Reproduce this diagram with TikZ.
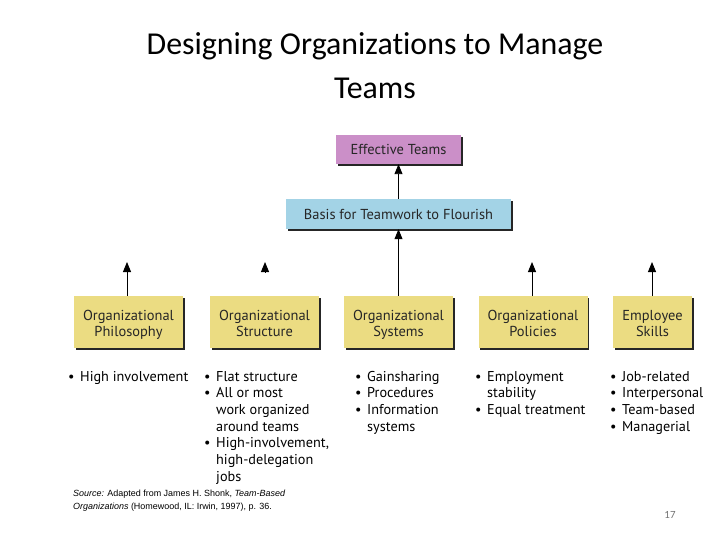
\documentclass[tikz,border=0pt]{standalone}
\usepackage{fontspec}
\setmainfont{PT Sans}
\newfontfamily\titlefont[Ligatures=NoCommon]{Carlito}
\newfontfamily\srcfont{Liberation Sans}
\usetikzlibrary{arrows.meta,shadows}

\definecolor{teampink}{RGB}{203,143,200}
\definecolor{basisblue}{RGB}{163,211,230}
\definecolor{factoryellow}{RGB}{235,220,130}

\newcommand{\bl}{\makebox[12bp][l]{\textbullet}}
\newcommand{\cl}{\hspace*{12bp}}
\newcommand{\fl}[1]{\rule[-1bp]{0pt}{15bp}\smash{#1}}% one line in a factor box
\newcommand{\sstr}{\rule[-1bp]{0pt}{13bp}}% strut of the one-line boxes

\begin{document}
\begin{tikzpicture}[x=1bp,y=-1bp,
    box/.style={inner sep=0pt, align=center, text=black!85,
      font=\fontsize{14.5}{17}\selectfont,
      drop shadow={shadow xshift=1.6bp, shadow yshift=-1.6bp, fill=black, opacity=.85}},
    factor/.style={box, fill=factoryellow, minimum height=52bp},
    list/.style={anchor=north west, inner sep=0pt, align=left,
      font=\fontsize{14.3}{16.7}\selectfont},
    up/.style={-{Triangle[width=8bp,length=10bp]}, line width=.9pt}]
  \useasboundingbox (0,0) rectangle (720,540);

  % title
  \node (title) at (375,66) [align=center, font=\titlefont\fontsize{32}{44}\selectfont]
    {Designing Organizations to Manage\\Teams};

  % top of the chart
  \node (E) at (398.5,149.5) [box, fill=teampink, minimum width=125bp, minimum height=29bp] {\sstr Effective Teams};
  \node (B) at (398.5,214) [box, fill=basisblue, minimum width=225bp, minimum height=30bp] {\sstr Basis for Teamwork to Flourish};

  % the five factors
  \node (phil) at (128.5,322) [factor, minimum width=109bp] {\fl{Organizational}\\\fl{Philosophy}};
  \node (struc) at (264.5,322) [factor, minimum width=109bp] {\fl{Organizational}\\\fl{Structure}};
  \node (sys) at (398.5,322) [factor, minimum width=109bp] {\fl{Organizational}\\\fl{Systems}};
  \node (pol) at (533,322) [factor, minimum width=109bp] {\fl{Organizational}\\\fl{Policies}};
  \node (skill) at (652.5,322) [factor, minimum width=79bp] {\fl{Employee}\\\fl{Skills}};

  \coordinate (tphil) at (127,262);
  \coordinate (tstruc) at (265,262);
  \coordinate (sstruc) at (265,272);
  \coordinate (tpol) at (532,262);
  \coordinate (tskill) at (652,262);

  \draw[up] (B.north) -- (E.south);
  \draw[up] (sys.north) -- (B.south);
  \draw[up] (phil.north -| tphil) -- (tphil);
  \draw[up] (sstruc) -- (tstruc);
  \draw[up] (pol.north -| tpol) -- (tpol);
  \draw[up] (skill.north -| tskill) -- (tskill);

  % bullet lists
  \node (lphil) at (68,371) [list] {\bl High involvement};
  \node (lstruc) at (204,371) [list] {\bl Flat structure\\ \bl All or most\\ \cl work organized\\ \cl around teams\\ \bl High-involvement,\\ \cl high-delegation\\ \cl jobs};
  \node (lsys) at (355,371) [list] {\bl Gainsharing\\ \bl Procedures\\ \bl Information\\ \cl systems};
  \node (lpol) at (475,371) [list] {\bl Employment\\ \cl stability\\ \bl Equal treatment};
  \node (lskill) at (610,371) [list] {\bl Job-related\\ \bl Interpersonal\\ \bl Team-based\\ \bl Managerial};

  % source and page number
  \node (src) at (73,490) [anchor=north west, inner sep=0pt, align=left,
    font=\srcfont\fontsize{9}{13}\selectfont]
    {\textit{Source:} Adapted from James H. Shonk, \textit{Team-Based}\\
     \textit{Organizations} (Homewood, IL: Irwin, 1997), p. 36.};
  \node (page) at (670,515) [text=black!55, font=\titlefont\fontsize{11}{13}\selectfont] {17};
\end{tikzpicture}
\end{document}
